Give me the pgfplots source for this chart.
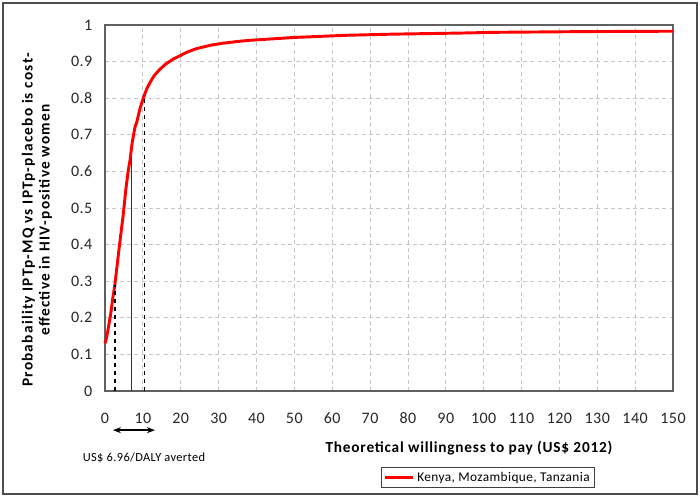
\documentclass[border=0pt]{standalone}
\usepackage{fontspec}
\setmainfont{Carlito}
\usepackage{pgfplots}
\pgfplotsset{compat=1.18}
\usetikzlibrary{arrows.meta}

\begin{document}
\begin{tikzpicture}[x=0.75pt,y=0.75pt]
\useasboundingbox (0,0) rectangle (700,497);
\draw[line width=0.9pt, black!70] (3,3) rectangle (697,494);

\begin{axis}[
    at={(78.75pt,79.5pt)}, anchor=south west,
    scale only axis,
    width=426pt, height=274.5pt,
    xmin=0, xmax=150, ymin=0, ymax=1,
    xtick={0,10,...,150},
    ytick={0,0.1,...,1},
    grid=major,
    grid style={dash pattern=on 3pt off 2.5pt, gray!45, line width=0.6pt},
    axis line style={gray!75!black, line width=1.3pt},
    major tick length=0pt,
    /pgf/number format/assume math mode=true,
    tick label style={font=\fontsize{12}{13}\selectfont\addfontfeatures{LetterSpace=3}, text=black!85},
    yticklabel style={/pgf/number format/fixed, /pgf/number format/precision=1, xshift=-6pt},
    xticklabel style={yshift=-13pt},
    clip=false,
    legend style={at={(0.674,-0.236)}, anchor=center, draw=black!75,
        font=\fontsize{10}{11}\selectfont\addfontfeatures{LetterSpace=3},
        inner sep=1.5pt, line width=0.6pt},
    legend cell align=left,
    legend image code/.code={\draw[#1] (0cm,0cm) -- (0.75cm,0cm);},
]

% cost-effectiveness acceptability curve
\addplot[red, line width=2.2pt] coordinates {
    (0,0.13) (0.5,0.15) (1,0.18) (1.5,0.21) (2,0.25) (2.6,0.29)
    (3.5,0.37) (4.2,0.43) (4.8,0.48) (5.5,0.55) (6.1,0.60) (6.6,0.63)
    (7.2,0.68) (7.9,0.72) (8.4,0.735) (9.2,0.77) (10.1,0.80) (11,0.825)
    (11.9,0.843) (13,0.862) (14.5,0.879) (16,0.893) (18,0.907) (20,0.917)
    (21.5,0.925) (24,0.935) (26,0.940) (28,0.945) (31,0.950) (35,0.955)
    (38,0.958) (44,0.962) (50,0.966) (57,0.969) (64,0.972) (76,0.975)
    (94,0.978) (103,0.980) (127,0.982) (150,0.983)
};
\addlegendentry{Kenya, Mozambique, Tanzania}

% reference lines
\addplot[black, dashed, line width=1.1pt, forget plot] coordinates {(2.6,0) (2.6,0.29)};
\addplot[black!80, line width=0.7pt, forget plot] coordinates {(6.96,0) (6.96,0.64)};
\addplot[black, dashed, line width=1.1pt, forget plot] coordinates {(10.4,0) (10.4,0.80)};

\draw[{Stealth[length=6pt]}-{Stealth[length=6pt]}, line width=1pt]
    (axis cs:2.1,-0.107) -- (axis cs:13.2,-0.107);
\node[font=\fontsize{9.3}{10}\selectfont\addfontfeatures{LetterSpace=3}] at (axis cs:10.3,-0.184) {US\$ 6.96/DALY averted};
\end{axis}

\node[rotate=90, align=center, font=\fontsize{11.5}{12.8}\selectfont\bfseries\addfontfeatures{LetterSpace=8}]
    at (37,277) {Probabaility IPTp-MQ vs IPTp-placebo is cost-\\effective in HIV-positive women};
\node[font=\fontsize{11.5}{12}\selectfont\bfseries\addfontfeatures{LetterSpace=5}] at (469,49)
    {Theoretical willingness to pay (US\$ 2012)};
\end{tikzpicture}
\end{document}
